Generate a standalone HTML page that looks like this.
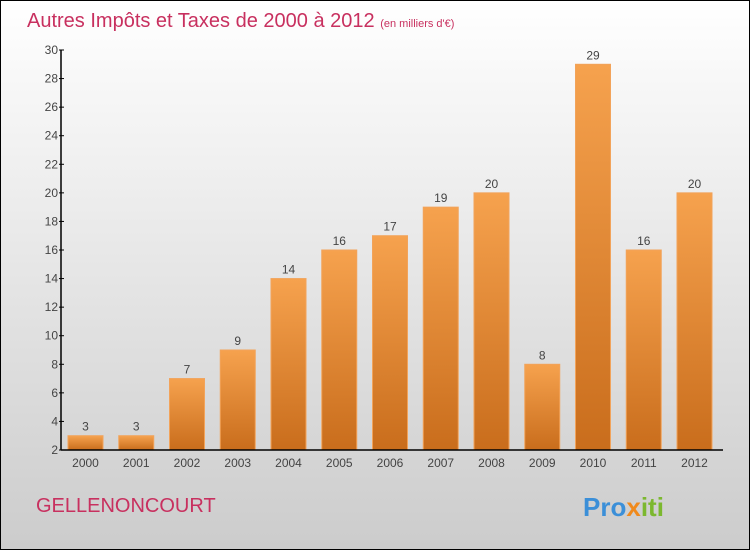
<!DOCTYPE html>
<html><head><meta charset="utf-8"><style>
body{margin:0}
#c{position:relative;width:748px;height:548px;border:1px solid #000;background:linear-gradient(#fff,#ccc);font-family:"Liberation Sans",sans-serif;overflow:hidden}
</style></head><body>
<div id="c">
<svg width="748" height="548" id="s">
<defs><linearGradient id="g" x1="0" y1="0" x2="0" y2="1"><stop offset="0" stop-color="#f6a24e"/><stop offset="1" stop-color="#c96d1c"/></linearGradient></defs>
<text x="26" y="26" font-size="20" fill="#c8305f">Autres Impôts et Taxes de 2000 à 2012 <tspan font-size="11">(en milliers d'€)</tspan></text>
<text x="35" y="511" font-size="20" fill="#c8305f">GELLENONCOURT</text>
<text x="582" y="515" font-size="26" font-weight="bold"><tspan fill="#3b8fd8">Pro</tspan><tspan fill="#f08a1c">x</tspan><tspan fill="#7cb82f">iti</tspan></text>
<g id="plot"></g>
</svg></div>
<script>
const years=["2000","2001","2002","2003","2004","2005","2006","2007","2008","2009","2010","2011","2012"];
const values=[3,3,7,9,14,16,17,19,20,8,29,16,20];
const yTicks=[2,4,6,8,10,12,14,16,18,20,22,24,26,28,30];
const ns="http://www.w3.org/2000/svg",p=document.getElementById('plot');
const y=v=>449-(v-2)*400/28, x=i=>67+i*50.75;
function el(t,a,txt){const e=document.createElementNS(ns,t);for(const k in a)e.setAttribute(k,a[k]);if(txt!=null)e.textContent=txt;p.appendChild(e);return e;}
values.forEach((v,i)=>{
const b=el('rect',{x:x(i),y:y(v),width:35,height:y(2)-y(v),fill:'url(#g)',stroke:'#f2a35a','stroke-width':1});


const t=el('text',{x:x(i)+17.5,y:y(v)-5,'font-size':12,'text-anchor':'middle',fill:'#444'},v);


const l=el('text',{x:x(i)+17.5,y:466,'font-size':12,'text-anchor':'middle',fill:'#444'},years[i]);


});
yTicks.forEach(v=>{
const tk=el('line',{x1:58,x2:63,y1:y(v),y2:y(v),stroke:'#000'});


const t=el('text',{x:57,y:y(v)+4,'font-size':12,'text-anchor':'end',fill:'#444'},v);


});
const ya=el('line',{x1:60,x2:60,y1:y(30),y2:y(2),stroke:'#000','stroke-width':1.5});


const xa=el('line',{x1:60,x2:722,y1:y(2),y2:y(2),stroke:'#000','stroke-width':1.5});


</script>
</body></html>
